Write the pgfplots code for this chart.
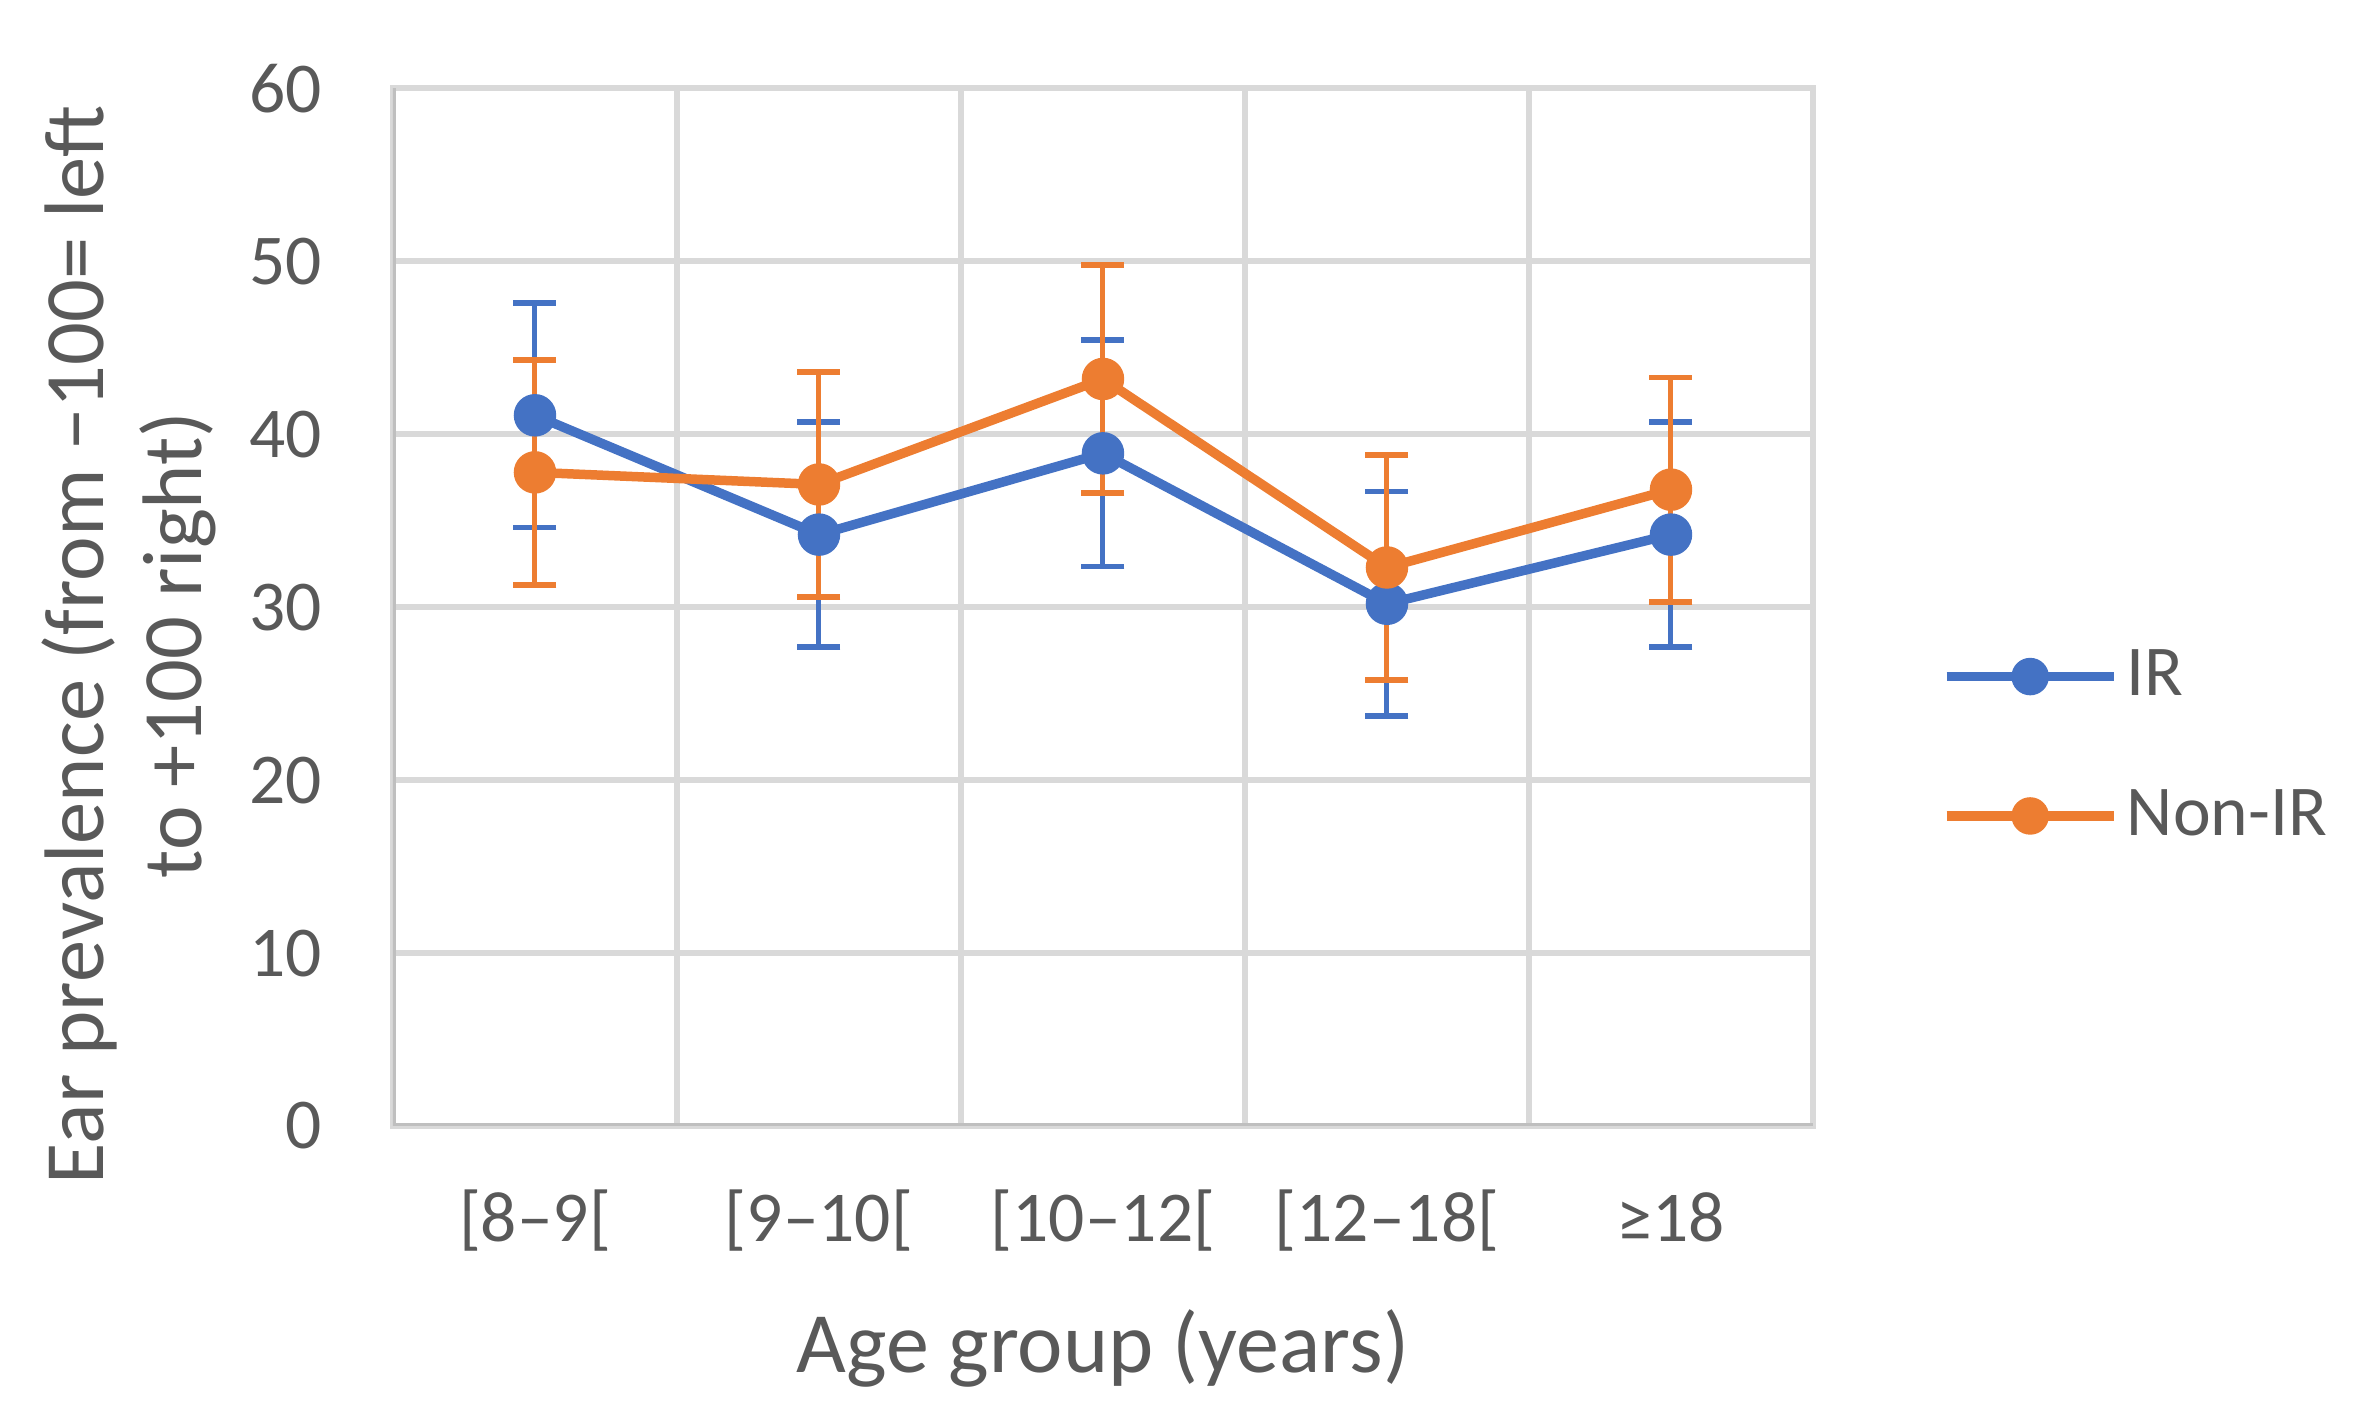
\documentclass[border=0pt]{standalone}
\usepackage{fontspec}
\setmainfont{Carlito}
\usepackage{pgfplots}
\usepackage{pgfplotstable}
\pgfplotsset{compat=1.18}
\definecolor{irblue}{HTML}{4472C4}
\definecolor{nirorange}{HTML}{ED7D31}
\definecolor{txt}{HTML}{595959}
\definecolor{gridc}{HTML}{D9D9D9}
\definecolor{axc}{HTML}{BFBFBF}
\newcommand{\f}{\fontsize{14.3pt}{17pt}\selectfont}

\pgfplotstableread{
x y e
0 41.1 6.5
1 34.2 6.5
2 38.9 6.55
3 30.2 6.5
4 34.2 6.5
}\irdata
\pgfplotstableread{
x y e
0 37.8 6.5
1 37.1 6.5
2 43.2 6.6
3 32.3 6.5
4 36.8 6.5
}\nirdata

\begin{document}
\begin{tikzpicture}
\useasboundingbox (-78.6pt,-57.4pt) rectangle (392.6pt,225.2pt);
\begin{axis}[
  at={(0pt,0pt)}, anchor=south west,
  scale only axis, width=284pt, height=207.5pt,
  xmin=-0.5, xmax=4.5, ymin=0, ymax=60,
  xtick={0,1,2,3,4},
  xticklabels={{[8–9[},{[9–10[},{[10–12[},{[12–18[},{≥18}},
  minor xtick={0.5,1.5,2.5,3.5},
  ytick={0,10,20,30,40,50,60},
  xmajorgrids=false, xminorgrids=true, ymajorgrids=true,
  grid style={draw=gridc, line width=1.2pt},
  minor grid style={draw=gridc, line width=1.2pt},
  major tick length=0pt, minor tick length=0pt,
  axis line style={draw=gridc, line width=1.2pt},
  /pgf/number format/assume math mode=true,
  tick label style={font=\f, text=txt},
  yticklabel style={anchor=east, inner sep=0pt, xshift=-14pt},
  xticklabel style={anchor=base, inner sep=0pt, yshift=-23.1pt},
  xlabel={Age group (years)},
  xlabel style={at={(axis description cs:0.5,0)}, anchor=base, yshift=-49.4pt, font=\fontsize{17.2pt}{20pt}\selectfont, text=txt, inner sep=0pt},
  ylabel={Ear prevalence (from −100= left\\to +100 right)},
  ylabel style={at={(axis description cs:-0.1859,0.4636)}, anchor=center, align=center, font=\fontsize{16.9pt}{19.6pt}\selectfont, text=txt, inner sep=0pt},
  legend style={at={(axis description cs:1.0908,0.366)}, anchor=west, draw=none, fill=none, inner sep=0pt, outer sep=0pt, row sep=17.2pt, column sep=1.7pt, nodes={inner sep=0pt, text=txt, font=\f}},
  legend cell align=left,
  legend image code/.code={\draw[mark repeat=2,mark phase=2,mark size=3.5pt] plot coordinates {(0pt,0pt) (16.7pt,0pt) (33.4pt,0pt)};},
]
\addplot[irblue, line width=1.9pt, line join=round, mark=*, mark size=4pt, mark options={solid, line width=0.5pt, fill=irblue},
  error bars/.cd, y dir=both, y explicit, error bar style={line width=1pt}, error mark options={rotate=90, line width=1.1pt, mark size=4.3pt}]
  table[x=x, y=y, y error=e] {\irdata};
\addlegendentry{IR}
\addplot[nirorange, line width=1.9pt, line join=round, mark=*, mark size=4pt, mark options={solid, line width=0.5pt, fill=nirorange},
  error bars/.cd, y dir=both, y explicit, error bar style={line width=1pt}, error mark options={rotate=90, line width=1.1pt, mark size=4.3pt}]
  table[x=x, y=y, y error=e] {\nirdata};
\addlegendentry{Non-IR}
\draw[axc, line width=1.2pt] (rel axis cs:0,1) -- (rel axis cs:0,0) -- (rel axis cs:1,0);
\end{axis}
\end{tikzpicture}
\end{document}
